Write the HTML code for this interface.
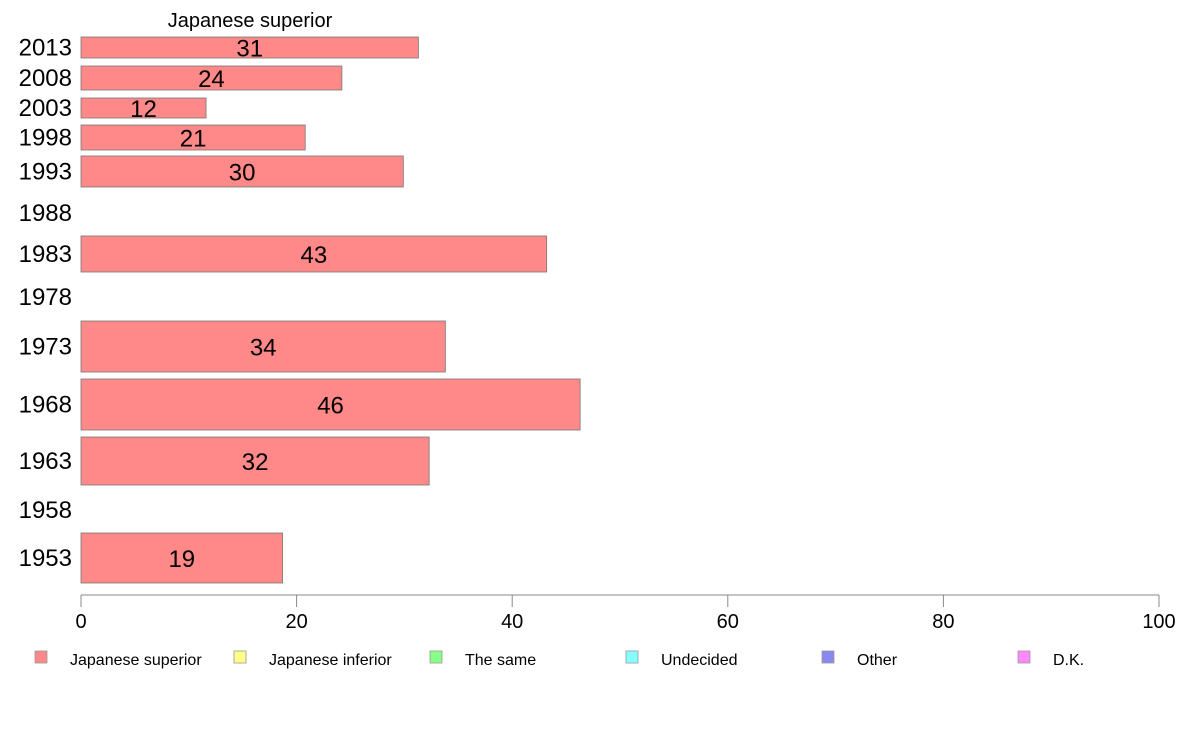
<!DOCTYPE html>
<html><head><meta charset="utf-8"><style>
body{margin:0;background:#fff;font-family:"Liberation Sans",sans-serif;}
svg{display:block}
</style></head><body>
<svg id="c" width="1188" height="736">
<text x="250" y="27" font-size="20" text-anchor="middle">Japanese superior</text>
<g id="rows"></g>
<g id="axis"></g>
<g id="legend"></g>
</svg>
<script>
const years=["2013","2008","2003","1998","1993","1988","1983","1978","1973","1968","1963","1958","1953"];
const values=[31.3,24.2,11.6,20.8,29.9,null,43.2,null,33.8,46.3,32.3,null,18.7];
const labels=["31","24","12","21","30","","43","","34","46","32","","19"];
const ticks=[0,20,40,60,80,100];
const legendNames=["Japanese superior","Japanese inferior","The same","Undecided","Other","D.K."];
const legendColors=["#ff8888","#ffff88","#88ff88","#88ffff","#8888ee","#ff88ff"];
// row bands (layout): top,bottom
const bands=[[37,58],[66,90],[98,118],[125,150],[156,187],[198,228],[236,272],[280,314],[321,372],[379,430],[437,485],[493,527],[533,583]];
const NS="http://www.w3.org/2000/svg";
const x=v=>81+v*10.78;
const svg=document.getElementById('c');
const rows=document.getElementById('rows');
function mk(t,a,p){const e=document.createElementNS(NS,t);for(const k in a)e.setAttribute(k,a[k]);p.appendChild(e);return e;}
years.forEach((y,i)=>{
  const [t,b]=bands[i];const cy=(t+b)/2;
  const yl=mk('text',{x:72,y:cy+8,'font-size':24,'text-anchor':'end'},rows);
  yl.textContent=y;
  
  
  if(values[i]!=null){
    const r=mk('rect',{x:81,y:t,width:x(values[i])-81,height:b-t,fill:'#ff8888',stroke:'#777','stroke-width':0.8},rows);
    
    
    const v=mk('text',{x:(81+x(values[i]))/2,y:cy+9,'font-size':24,'text-anchor':'middle'},rows);
    v.textContent=labels[i];
    
    
  }
});
const ax=document.getElementById('axis');
const al=mk('line',{x1:81,x2:1159,y1:595,y2:595,stroke:'#888','stroke-width':1},ax);


ticks.forEach(t=>{
  const l=mk('line',{x1:x(t),x2:x(t),y1:595,y2:607,stroke:'#888','stroke-width':1},ax);
  
  
  const tx=mk('text',{x:x(t),y:628,'font-size':20,'text-anchor':'middle'},ax);
  tx.textContent=t;
  
  
});
const lg=document.getElementById('legend');
const lx=[35,234,430,626,822,1018];
legendNames.forEach((n,i)=>{
  const r=mk('rect',{x:lx[i],y:651,width:12,height:12,fill:legendColors[i],stroke:'#999','stroke-width':0.8},lg);
  
  
  const t=mk('text',{x:lx[i]+35,y:665,'font-size':16},lg);
  t.textContent=n;
  
  
});
</script>
</body></html>
